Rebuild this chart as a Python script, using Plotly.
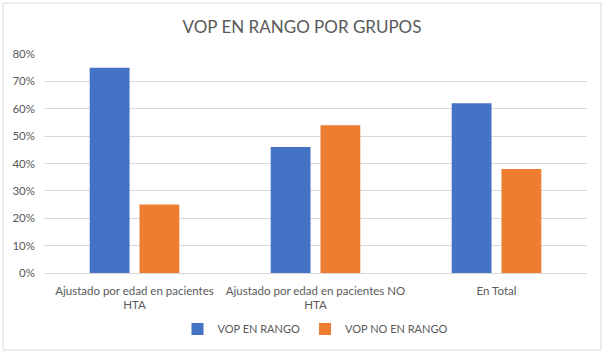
import plotly.graph_objects as go

categories = ["Ajustado por edad en pacientes<br>HTA",
              "Ajustado por edad en pacientes NO<br>HTA",
              "En Total"]
vop_en_rango = [0.75, 0.46, 0.62]
vop_no_en_rango = [0.25, 0.54, 0.38]
tick_vals = [0, 0.1, 0.2, 0.3, 0.4, 0.5, 0.6, 0.7, 0.8]

W, H = 604, 355
L, R, T, B = 44, 17, 54, 82
pw, ph = W - L - R, H - T - B

font_fam = "Lato, 'Open Sans', sans-serif"
grey = "#595959"

fig = go.Figure()
fig.add_trace(go.Bar(name="VOP EN RANGO", x=categories, y=vop_en_rango,
                     marker=dict(color="#4472C4", line=dict(width=0))))
fig.add_trace(go.Bar(name="VOP NO EN RANGO", x=categories, y=vop_no_en_rango,
                     marker=dict(color="#ED7D31", line=dict(width=0))))

fig.update_layout(
    width=W, height=H,
    margin=dict(l=L, r=R, t=T, b=B, pad=0),
    paper_bgcolor="white", plot_bgcolor="white",
    barmode="group", bargap=0.45, bargroupgap=0.2,
    font=dict(family=font_fam, color=grey, size=11),
    title=dict(text="VOP EN RANGO POR GRUPOS", x=0.5, xanchor="center",
               y=1 - 27 / H, yanchor="middle",
               font=dict(size=17, color=grey, family=font_fam)),
    showlegend=True,
    legend=dict(orientation="h", x=0.5, xanchor="center",
                y=-(329 - 273) / ph, yanchor="middle",
                font=dict(size=11, color=grey), itemwidth=30,
                traceorder="normal"),
    xaxis=dict(showgrid=False, showline=False, ticks="",
               ticklabelstandoff=9,
               tickfont=dict(size=11.5, color=grey)),
    yaxis=dict(range=[0, 0.8], tickvals=tick_vals, tickformat=".0%",
               showgrid=True, gridcolor="#D9D9D9", gridwidth=1,
               zeroline=True, zerolinecolor="#D9D9D9", zerolinewidth=1,
               showline=False, ticks="", ticklen=0, ticklabelstandoff=8,
               tickfont=dict(size=11.5, color=grey)),
    shapes=[dict(type="rect", xref="paper", yref="paper",
                 x0=(3 - L) / pw, x1=(601 - L) / pw,
                 y0=(273 - 350) / ph, y1=(273 - 3) / ph,
                 line=dict(color="#D9D9D9", width=1), fillcolor="rgba(0,0,0,0)",
                 layer="below")],
)

fig.write_html("out.html", config={"displayModeBar": False},
               post_script="document.body.style.margin='0';document.body.style.overflow='hidden';")
